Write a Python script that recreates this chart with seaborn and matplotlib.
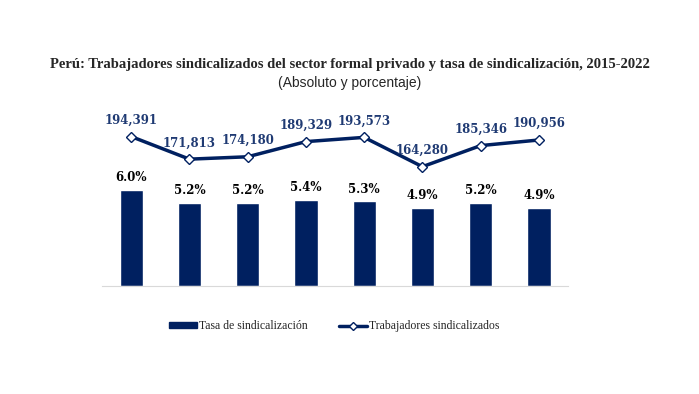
import seaborn as sns
import matplotlib.pyplot as plt
import pandas as pd
from matplotlib.patches import Patch
from matplotlib.lines import Line2D

years = ['2015', '2016', '2017', '2018', '2019', '2020', '2021', '2022']
tasa = [6.0, 5.2, 5.2, 5.4, 5.3, 4.9, 5.2, 4.9]
trabajadores = [194391, 171813, 174180, 189329, 193573, 164280, 185346, 190956]

df = pd.DataFrame({'Year': years, 'Tasa': tasa, 'Trab': trabajadores})
df['x'] = range(len(df))

navy = '#002060'
label_blue = '#1F3A73'
serif = 'Liberation Serif'
lbl_font = 'DejaVu Serif'

sns.set_style('white')
plt.rcParams['font.family'] = ['DejaVu Sans']

fig = plt.figure(figsize=(6.99, 3.94), dpi=100)
ax = fig.add_axes([0.146, 0.274, 0.6666, 0.447])

sns.barplot(data=df, x='Year', y='Tasa', color=navy, width=0.4, ax=ax,
            saturation=1)
ax.set_ylim(0, 11)
ax.set_xlim(-0.5, 7.5)
for i, v in enumerate(tasa):
    ax.annotate(f'{v:.1f}%', (i, v), xytext=(0, 4), textcoords='offset points',
                ha='center', va='bottom', fontsize=8.5, fontweight='bold',
                family=lbl_font, color='black')

ax2 = ax.twinx()
sns.lineplot(data=df, x='x', y='Trab', color=navy, linewidth=2.5, marker='D',
             markersize=5, markerfacecolor='white', markeredgecolor=navy,
             markeredgewidth=1, ax=ax2, legend=False)
ax2.set_ylim(45000, 221000)
ax2.set_xlim(-0.5, 7.5)
for i, v in enumerate(trabajadores):
    ax2.annotate(f'{v:,}', (i, v), xytext=(0, 7), textcoords='offset points',
                 ha='center', va='bottom', fontsize=8.5, fontweight='bold',
                 family=lbl_font, color=label_blue)

for a in (ax, ax2):
    for s in a.spines.values():
        s.set_visible(False)
    a.set_ylabel('')
    a.set_xlabel('')
    a.set_yticks([])
ax.spines['bottom'].set_visible(True)
ax.spines['bottom'].set_color('#d9d9d9')
ax.tick_params(axis='x', length=0, pad=9)
for t in ax.get_xticklabels():
    t.set_family(serif)
    t.set_fontsize(9.5)
    t.set_color('#262626')
ax2.set_xticks([])

handles = [Patch(facecolor=navy, edgecolor=navy),
           Line2D([], [], color=navy, linewidth=2.5, marker='D', markersize=4,
                  markerfacecolor='white', markeredgecolor=navy)]
fig.legend(handles, ['Tasa de sindicalización', 'Trabajadores sindicalizados'],
           loc='center', bbox_to_anchor=(0.478, 0.172),
           ncol=2, frameon=False, prop={'family': serif, 'size': 8.5},
           handlelength=2.4, handleheight=0.45, columnspacing=2.6, handletextpad=0.15)

fig.text(0.5, 0.836, 'Perú: Trabajadores sindicalizados del sector formal privado y tasa de sindicalización, 2015-2022',
         ha='center', va='center', fontsize=10.5, fontweight='bold', family=serif)
fig.text(0.5, 0.790, '(Absoluto y porcentaje)', ha='center', va='center',
         fontsize=10, family='Liberation Sans')

fig.savefig('out.png', dpi=100)
